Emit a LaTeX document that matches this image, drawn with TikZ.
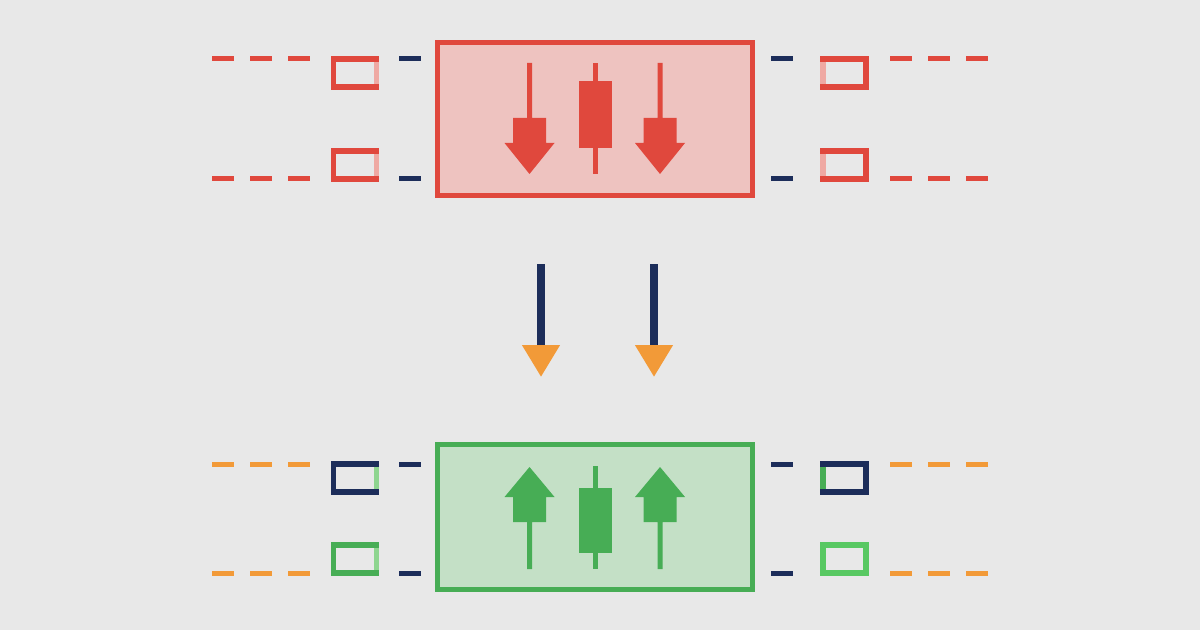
\documentclass[tikz,border=0pt]{standalone}
\usetikzlibrary{arrows.meta,positioning}
\definecolor{bg}{HTML}{E8E8E8}
\definecolor{bearred}{HTML}{E0483D}
\definecolor{bearfill}{HTML}{EEC3C0}
\definecolor{fadered}{HTML}{EFA9A3}
\definecolor{bullgreen}{HTML}{47AD55}
\definecolor{bullfill}{HTML}{C4E0C6}
\definecolor{fadegreen}{HTML}{8ED58F}
\definecolor{brightgreen}{HTML}{58C862}
\definecolor{navy}{HTML}{1C2D5A}
\definecolor{signal}{HTML}{F29A38}

\begin{document}
\begin{tikzpicture}[
  x=0.5mm, y=-0.5mm,
  panel/.style={rectangle, draw=#1, line width=2.5mm, inner sep=0pt,
                outer sep=0pt, minimum width=157.5mm},
  sellpanel/.style={panel=bearred, fill=bearfill, minimum height=76.25mm},
  buypanel/.style={panel=bullgreen, fill=bullfill, minimum height=72.5mm},
  slot/.style={rectangle, draw=#1, line width=2.75mm, inner sep=0pt,
               outer sep=0pt, minimum width=21.5mm, minimum height=14mm},
  fade/.style={draw=#1, line width=2.75mm},
  tick/.style={draw=navy, line width=2.5mm},
  trail/.style={draw=#1, line width=2.5mm, dash pattern=on 11mm off 8mm},
  flow/.style={draw=navy, line width=3.8mm,
               -{Triangle[color=signal, length=16mm, width=18mm]}}
]
  \fill[bg] (0,0) rectangle (1200,630);

  % panels
  \node[sellpanel] (sell) at (595,118.75) {};
  \node[buypanel, below=124.75mm of sell] (buy) {};

  % bearish panel content
  \foreach \cx in {529.5,660}
    \fill[bearred] (\cx-2.5,63) -- (\cx+2.5,63) -- (\cx+2.5,118) -- (\cx+16.5,118)
      -- (\cx+16.5,143) -- (\cx+25,143) -- (\cx,174) -- (\cx-25,143)
      -- (\cx-16.5,143) -- (\cx-16.5,118) -- (\cx-2.5,118) -- cycle;
  \fill[bearred] (593,63) rectangle (598,174);
  \fill[bearred] (579,81) rectangle (612,148);

  % bullish panel content
  \foreach \cx in {529.5,660}
    \fill[bullgreen] (\cx-2.5,569) -- (\cx+2.5,569) -- (\cx+2.5,522) -- (\cx+16.5,522)
      -- (\cx+16.5,497) -- (\cx+25,497) -- (\cx,467) -- (\cx-25,497)
      -- (\cx-16.5,497) -- (\cx-16.5,522) -- (\cx-2.5,522) -- cycle;
  \fill[bullgreen] (593,466) rectangle (598,569);
  \fill[bullgreen] (579,488) rectangle (612,553);

  % side levels
  \foreach \y in {59,179} {
    \draw[trail=bearred] (212,\y) -- (310,\y);
    \draw[trail=bearred] (890,\y) -- (988,\y);
    \draw[tick] (399,\y) -- (421,\y);
    \draw[tick] (771,\y) -- (793,\y);
  }
  \foreach \y in {464,573} {
    \draw[trail=signal] (212,\y) -- (310,\y);
    \draw[trail=signal] (890,\y) -- (988,\y);
    \draw[tick] (399,\y) -- (421,\y);
    \draw[tick] (771,\y) -- (793,\y);
  }

  \node[slot=bearred] (lt) at (355,73) {};
  \node[slot=bearred] (lb) at (355,165) {};
  \node[slot=bearred] (rt) at (844.5,73) {};
  \node[slot=bearred] (rb) at (844.5,165) {};
  \node[slot=navy] (blt) at (355,478) {};
  \node[slot=bullgreen] (blb) at (355,559) {};
  \node[slot=navy] (brt) at (844.5,478) {};
  \node[slot=brightgreen] (brb) at (844.5,559) {};

  \draw[fade=fadered] ([yshift=-1.4mm]lt.north east) -- ([yshift=1.4mm]lt.south east);
  \draw[fade=fadered] ([yshift=-1.4mm]lb.north east) -- ([yshift=1.4mm]lb.south east);
  \draw[fade=fadered] ([yshift=-1.4mm]rt.north west) -- ([yshift=1.4mm]rt.south west);
  \draw[fade=fadered] ([yshift=-1.4mm]rb.north west) -- ([yshift=1.4mm]rb.south west);
  \draw[fade=fadegreen] ([yshift=-1.4mm]blt.north east) -- ([yshift=1.4mm]blt.south east);
  \draw[fade=fadegreen] ([yshift=-1.4mm]blb.north east) -- ([yshift=1.4mm]blb.south east);
  \draw[fade=bullgreen] ([yshift=-1.4mm]brt.north west) -- ([yshift=1.4mm]brt.south west);

  % reversal arrows
  \coordinate (f1) at (541,264);
  \coordinate (t1) at (541,377);
  \coordinate (f2) at (654,264);
  \coordinate (t2) at (654,377);
  \draw[flow] (f1) -- (t1);
  \draw[flow] (f2) -- (t2);
\end{tikzpicture}
\end{document}
